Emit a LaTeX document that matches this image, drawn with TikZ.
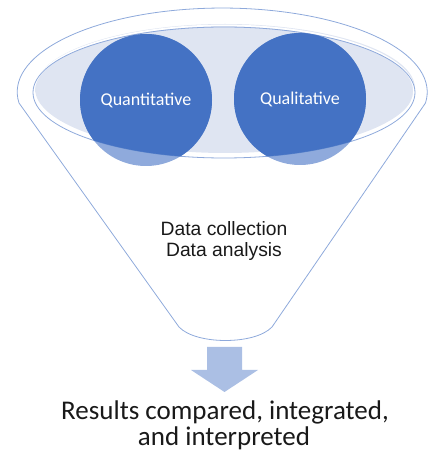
\documentclass[tikz,border=0pt]{standalone}
\usepackage{fontspec}
\newfontfamily\carlito{Carlito}
\newfontfamily\arialfont{Liberation Sans}
\definecolor{funnelblue}{HTML}{8EA9DB}
\definecolor{circleblue}{HTML}{4472C4}
\definecolor{ellipsefill}{HTML}{DFE5F2}
\definecolor{arrowblue}{HTML}{ABBFE4}

\begin{document}
\begin{tikzpicture}[x=1pt,y=1pt,
    funnel/.style={line width=0.8pt,funnelblue},
    method/.style={circle,fill=circleblue,fill opacity=0.6,text opacity=1,text=white,minimum size=132pt,inner sep=0pt,font=\carlito\fontsize{18}{20}\selectfont},
    steptext/.style={anchor=base,text=black!90,font=\arialfont\fontsize{19.3}{21}\selectfont},
    outtext/.style={anchor=base,text=black!90,font=\carlito\fontsize{27}{27}\selectfont}]

    \useasboundingbox (0,0) rectangle (428,453);

    % funnel
    \draw[funnel] (19,350) arc[start angle=187.5,end angle=-7.5,x radius=205,y radius=84]
        -- (272,126) .. controls (255,108) and (196,108) .. (179,126) -- cycle;

    % inner ellipse
    \fill[ellipsefill] (225,364.5) ellipse [x radius=190,y radius=64.5];
    \draw[white,line width=1.8pt] (224,362) ellipse [x radius=190,y radius=65.5];
    \draw[funnel] (224,360.5) ellipse [x radius=191,y radius=65.5];

    \coordinate (quantc) at (146,353);
    \coordinate (qualc) at (300,354);
    \begin{scope}
        \clip (224,360.5) ellipse [x radius=191,y radius=65.5];
        \fill[circleblue] (quantc) circle[radius=66];
        \fill[circleblue] (qualc) circle[radius=66];
    \end{scope}
    \node[method] (quant) at (quantc) {Quantitative};
    \node[method] (qual) at (qualc) {Qualitative};

    \node[steptext] (collect) at (224,217) {Data collection};
    \node[steptext] (analysis) at (224,196) {Data analysis};

    % arrow
    \fill[arrowblue] (207,106) -- (242,106) -- (242,83) -- (258,83) -- (224.5,61) -- (191,83) -- (207,83) -- cycle;

    \node[outtext] (results) at (225,33) {Results compared, integrated,};
    \node[outtext] (interp) at (224,7.5) {and interpreted};
\end{tikzpicture}
\end{document}
